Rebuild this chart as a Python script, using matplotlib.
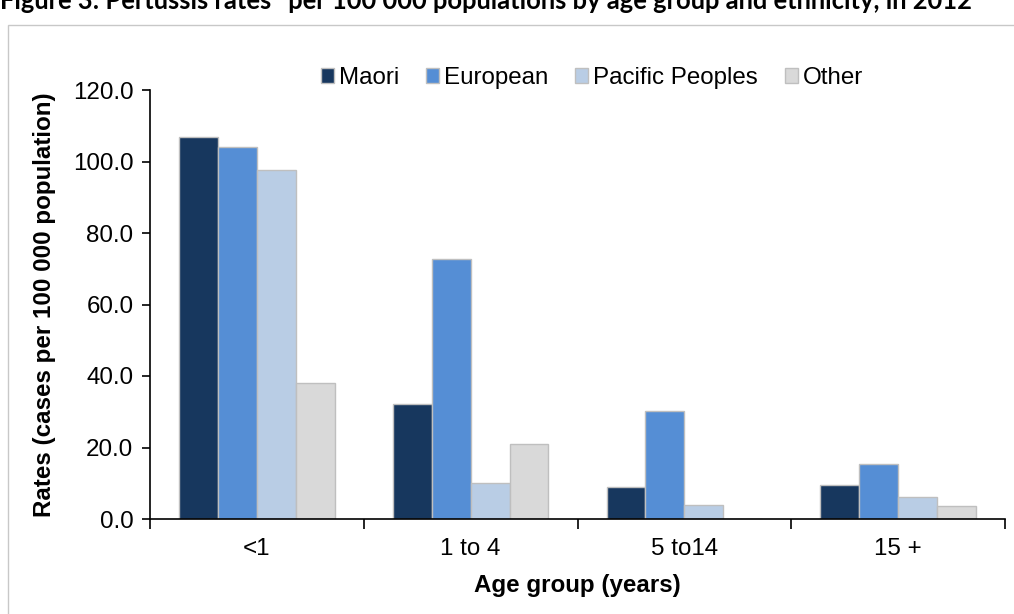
import matplotlib
matplotlib.use("Agg")
import matplotlib.pyplot as plt
import numpy as np
from matplotlib.patches import Rectangle

# Pertussis rates per 100 000 population, 2012
age_groups = ["<1", "1 to 4", "5 to14", "15 +"]
ethnicities = ["Maori", "European", "Pacific Peoples", "Other"]
maori = [106.9, 32.2, 8.9, 9.5]
european = [104.1, 72.7, 30.3, 15.3]
pacific = [97.6, 10.0, 3.8, 6.2]
other = [38.0, 21.0, 0.0, 3.6]
colors = ["#17375E", "#558ED5", "#B9CDE5", "#D9D9D9"]
y_ticks = [0, 20, 40, 60, 80, 100, 120]

plt.rcParams["font.family"] = ["Liberation Sans", "DejaVu Sans"]
FS = 17.4

W, H = 1014, 614
fig = plt.figure(figsize=(W / 100, H / 100), dpi=100)

# outer chart frame
fig.patches.append(Rectangle((8 / W, -0.01), 1.02 - 8 / W, 1 - 25 / H + 0.01,
                             transform=fig.transFigure, fill=False,
                             edgecolor="#C8C8C8", linewidth=1.0))

# figure title (runs off the top edge)
title = fig.text(0.0, 1 - 9 / H, "Figure 3: Pertussis rates* per 100 000 populations by age group and ethnicity, in 2012",
                 fontfamily=["Lato", "DejaVu Sans"], fontweight="bold", fontsize=17,
                 ha="left", va="baseline", color="#000000")
fig.canvas.draw()
bb = title.get_window_extent()
title.set_fontsize(17 * 975 / bb.width)

ax = fig.add_axes([150 / W, 1 - 519 / H, (1005 - 150) / W, (519 - 90) / H])

x = np.arange(len(age_groups))
width = 0.182
series = [maori, european, pacific, other]
for i, (vals, col, name) in enumerate(zip(series, colors, ethnicities)):
    ax.bar(x + (i - 1.5) * width, vals, width, color=col, edgecolor="#BFBFBF",
           linewidth=1.0, label=name, zorder=2)

ax.set_xlim(-0.5, len(age_groups) - 0.5)
ax.set_ylim(0, 120)
ax.set_yticks(y_ticks)
ax.set_yticklabels([f"{v:.1f}" for v in y_ticks])
ax.set_xticks(x)
ax.set_xticklabels(age_groups)
ax.set_xticks(np.arange(-0.5, len(age_groups)), minor=True)
ax.tick_params(axis="x", which="major", length=0, pad=14, labelsize=FS)
ax.tick_params(axis="x", which="minor", length=7, width=1.2, direction="out")
ax.tick_params(axis="y", length=6, width=1.2, direction="out", labelsize=FS, pad=6)

for s in ["top", "right"]:
    ax.spines[s].set_visible(False)
for s in ["left", "bottom"]:
    ax.spines[s].set_linewidth(1.2)

ax.set_xlabel("Age group (years)", fontsize=FS, fontweight="bold", labelpad=10)
ax.set_ylabel("Rates (cases per 100 000 population)", fontsize=FS, fontweight="bold", labelpad=12)

leg = ax.legend(loc="center", bbox_to_anchor=((592 - 150) / (1005 - 150), (519 - 78) / (519 - 90)),
                ncol=4, frameon=False, fontsize=FS, handlelength=0.55, handleheight=0.55,
                handletextpad=0.2, columnspacing=1.1)

fig.savefig("out.png", dpi=100)
